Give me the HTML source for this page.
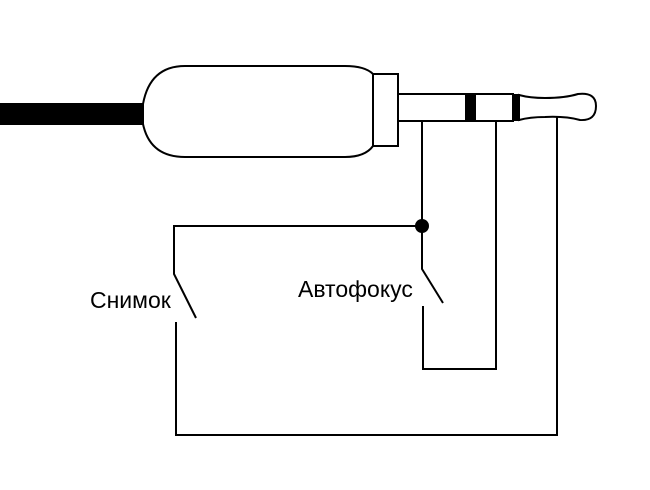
<!DOCTYPE html>
<html><head><meta charset="utf-8"><style>body{margin:0;background:#fff}svg{display:block}</style></head><body>
<svg width="650" height="490" viewBox="0 0 650 490" xmlns="http://www.w3.org/2000/svg">
<rect x="0" y="103" width="145" height="22" fill="#000"/>
<path d="M185 66 H345 Q365 66 373 74 V146 Q365 157 345 157 H185 Q150 157 143 124 V104 Q150 66 185 66 Z" fill="#fff" stroke="#000" stroke-width="2"/>
<rect x="373" y="74" width="25" height="72" fill="#fff" stroke="#000" stroke-width="2"/>
<rect x="398" y="94" width="115" height="27" fill="#fff" stroke="#000" stroke-width="2"/>
<rect x="465" y="94" width="11" height="27" fill="#000"/>
<path d="M519 95 Q530 98 545 98 Q565 98 578 94 Q596 92 596 106 Q596 121 580 120 Q565 116 545 117 Q530 117 519 120 Z" fill="#fff" stroke="#000" stroke-width="2"/>
<rect x="512" y="94" width="8" height="27" fill="#000"/>
<g fill="none" stroke="#000" stroke-width="2">
<path d="M422 121 V269 L443 303"/>
<path d="M423 306 V369 H496 V121"/>
<path d="M557 117 V435 H176 V322"/>
<path d="M422 226 H174 V274 L196 318"/>
</g>
<circle cx="422" cy="226" r="7" fill="#000"/>
<text x="90" y="308" font-family="Liberation Sans, sans-serif" font-size="23">Снимок</text>
<text x="298" y="297" font-family="Liberation Sans, sans-serif" font-size="23">Автофокус</text>
</svg>
</body></html>
